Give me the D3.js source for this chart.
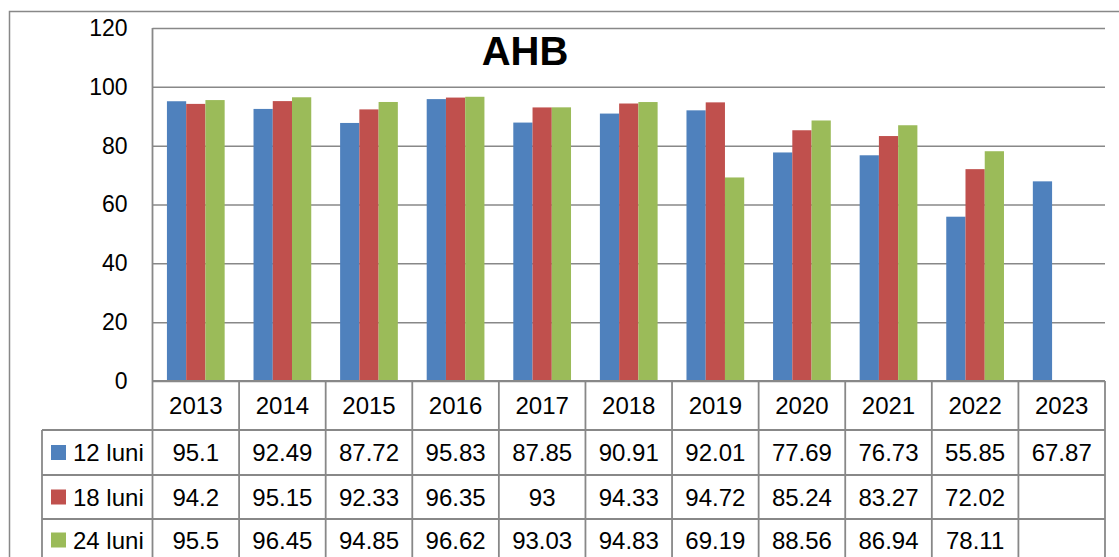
<!DOCTYPE html>
<html>
<head>
<meta charset="utf-8">
<script src="https://cdn.jsdelivr.net/npm/d3@7"></script>
<style>
  body { margin: 0; background: #fff; }
  svg { font-family: "Liberation Sans", Arial, sans-serif; display: block; }
</style>
</head>
<body>
<svg id="chart"></svg>
<script>
// data
const years = ['2013', '2014', '2015', '2016', '2017', '2018', '2019', '2020', '2021', '2022', '2023'];
const seriesNames = ['12 luni', '18 luni', '24 luni'];
const luni12 = [95.1, 92.49, 87.72, 95.83, 87.85, 90.91, 92.01, 77.69, 76.73, 55.85, 67.87];
const luni18 = [94.2, 95.15, 92.33, 96.35, 93, 94.33, 94.72, 85.24, 83.27, 72.02, null];
const luni24 = [95.5, 96.45, 94.85, 96.62, 93.03, 94.83, 69.19, 88.56, 86.94, 78.11, null];
const yTicks = [0, 20, 40, 60, 80, 100, 120];
const colors = ['#4F81BD', '#C0504D', '#9BBB59'];

const series = [luni12, luni18, luni24];

const W = 1119, H = 557;
const plot = { left: 152.5, right: 1105, top: 28, bottom: 381 };
const rowEdges = [381, 430, 475, 519, 565];
const legendLeft = 42;
const lineColor = '#888';

var svg = d3.select('#chart').attr('width', W).attr('height', H);

// outer chart border
svg.append('rect')
  .attr('x', 9.5).attr('y', 11.5)
  .attr('width', W + 20).attr('height', H + 20)
  .attr('fill', 'none')
  .attr('stroke', lineColor)
  .attr('stroke-width', 1.5);

// scales
var xScale = d3.scaleBand()
  .domain(years)
  .range([plot.left, plot.right])
  .paddingInner(0)
  .paddingOuter(0);

var subScale = d3.scaleBand()
  .domain(seriesNames)
  .range([0, xScale.bandwidth()])
  .paddingInner(0)
  .paddingOuter(0.75);

var yScale = d3.scaleLinear()
  .domain([0, 120])
  .range([plot.bottom, plot.top]);

// y axis + gridlines
var yAxis = svg.append('g')
  .attr('class', 'y axis')
  .attr('transform', `translate(${plot.left},0)`)
  .call(d3.axisLeft(yScale)
    .tickValues(yTicks)
    .tickSize(-(plot.right - plot.left))
    .tickPadding(25));

yAxis.select('.domain').remove();
yAxis.selectAll('line')
  .attr('stroke', lineColor)
  .attr('stroke-width', 1.5);
yAxis.selectAll('text')
  .attr('fill', '#000')
  .style('font-size', '23px');

// bars
seriesNames.forEach((name, si) => {
  var rows = years.map((y, i) => ({ year: y, value: series[si][i] }))
    .filter(d => d.value != null);
  svg.append('g')
    .selectAll('rect')
    .data(rows)
    .enter()
    .append('rect')
    .attr('x', d => xScale(d.year) + subScale(name))
    .attr('y', d => yScale(d.value))
    .attr('width', subScale.bandwidth())
    .attr('height', d => yScale(0) - yScale(d.value))
    .attr('fill', colors[si]);
});

// title
svg.append('text')
  .attr('x', 525)
  .attr('y', 65)
  .attr('text-anchor', 'middle')
  .style('font-size', '40px')
  .style('font-weight', 'bold')
  .text('AHB');

// data table
var table = svg.append('g').attr('class', 'table');

// horizontal lines
table.append('line')
  .attr('x1', plot.left).attr('x2', plot.right)
  .attr('y1', rowEdges[0]).attr('y2', rowEdges[0]);
rowEdges.slice(1, 4).forEach(y => {
  table.append('line')
    .attr('x1', legendLeft).attr('x2', plot.right)
    .attr('y1', y).attr('y2', y);
});

// vertical lines
years.forEach(y => {
  table.append('line')
    .attr('x1', xScale(y)).attr('x2', xScale(y))
    .attr('y1', y === years[0] ? plot.top : rowEdges[0]).attr('y2', H + 10);
});
table.append('line')
  .attr('x1', plot.right).attr('x2', plot.right)
  .attr('y1', rowEdges[0]).attr('y2', H + 10);
table.append('line')
  .attr('x1', legendLeft).attr('x2', legendLeft)
  .attr('y1', rowEdges[1]).attr('y2', H + 10);

table.selectAll('line')
  .attr('stroke', lineColor)
  .attr('stroke-width', 1.8);

// header row (years)
table.selectAll('text.year')
  .data(years)
  .enter()
  .append('text')
  .attr('class', 'year')
  .attr('x', d => xScale(d) + xScale.bandwidth() / 2)
  .attr('y', (rowEdges[0] + rowEdges[1]) / 2)
  .attr('dy', '0.36em')
  .attr('text-anchor', 'middle')
  .style('font-size', '24px')
  .text(d => d);

// data rows
seriesNames.forEach((name, si) => {
  var cy = (rowEdges[si + 1] + rowEdges[si + 2]) / 2 - (si === 2 ? 2 : 0);

  table.append('rect')
    .attr('x', 51).attr('y', cy - 7.5)
    .attr('width', 15).attr('height', 15)
    .attr('fill', colors[si]);

  table.append('text')
    .attr('x', 73)
    .attr('y', cy)
    .attr('dy', '0.36em')
    .style('font-size', '24px')
    .text(name);

  table.selectAll('text.v' + si)
    .data(years.map((y, i) => ({ year: y, value: series[si][i] })).filter(d => d.value != null))
    .enter()
    .append('text')
    .attr('class', 'v' + si)
    .attr('x', d => xScale(d.year) + xScale.bandwidth() / 2)
    .attr('y', cy)
    .attr('dy', '0.36em')
    .attr('text-anchor', 'middle')
    .style('font-size', '24px')
    .text(d => d.value);
});
</script>
</body>
</html>
